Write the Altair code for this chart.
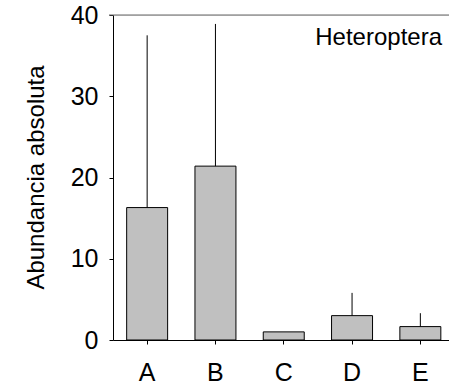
import altair as alt
import pandas as pd

categories = ["A", "B", "C", "D", "E"]
means = [16.3, 21.4, 1.0, 3.0, 1.65]
upper = [37.5, 38.9, 1.0, 5.8, 3.3]
y_ticks = [0, 10, 20, 30, 40]
panel_label = "Heteroptera"
y_title = "Abundancia absoluta"

df = pd.DataFrame({"cat": categories, "mean": means, "upper": upper})

W, H = 336, 325
FONT = "Liberation Sans"
FS_TICK = 25
FS_TEXT = 24

xscale = alt.Scale(range=[0, 341.5], paddingInner=0.4, paddingOuter=0.2)
yscale = alt.Scale(domain=[0, 40], nice=False)

base = alt.Chart(df)

bars = base.mark_bar(fill="#c0c0c0", stroke="black", strokeWidth=1).encode(
    x=alt.X("cat:N", scale=xscale, sort=categories,
            axis=alt.Axis(title=None, labelAngle=0, tickSize=4, labelPadding=16,
                          labelFontSize=FS_TICK, labelFont=FONT, labelColor="black",
                          domainColor="black", tickColor="black", grid=False)),
    y=alt.Y("mean:Q", scale=yscale,
            axis=alt.Axis(title=None, values=y_ticks, tickSize=4, labelPadding=11,
                          labelFontSize=FS_TICK, labelFont=FONT, labelColor="black",
                          domainColor="black", tickColor="black", grid=False)),
)

err = base.mark_rule(color="black", strokeWidth=1).encode(
    x=alt.X("cat:N", scale=xscale, sort=categories),
    y=alt.Y("mean:Q", scale=yscale),
    y2="upper:Q",
)

top_line = alt.Chart(pd.DataFrame({"v": [40]})).mark_rule(color="#666666", strokeWidth=1).encode(
    y=alt.Y("v:Q", scale=yscale),
    x=alt.value(-4),
    x2=alt.value(W),
)

label = alt.Chart(pd.DataFrame({"t": [panel_label]})).mark_text(
    align="right", baseline="alphabetic", fontSize=FS_TEXT, font=FONT, color="black"
).encode(text="t:N", x=alt.value(329), y=alt.value(30))

ytitle = alt.Chart(pd.DataFrame({"t": [y_title]})).mark_text(
    align="center", baseline="alphabetic", angle=270, fontSize=FS_TEXT, font=FONT, color="black"
).encode(text="t:N", x=alt.value(-69), y=alt.value(H / 2))

chart = alt.layer(bars, err, top_line, label, ytitle).properties(
    width=W, height=H,
    autosize=alt.AutoSizeParams(type="none"),
    padding={"left": 113, "top": 15, "right": 0, "bottom": 50},
).configure_view(stroke=None).configure(background="white")

chart.save("out.html", embed_options={"renderer": "svg", "actions": False})
